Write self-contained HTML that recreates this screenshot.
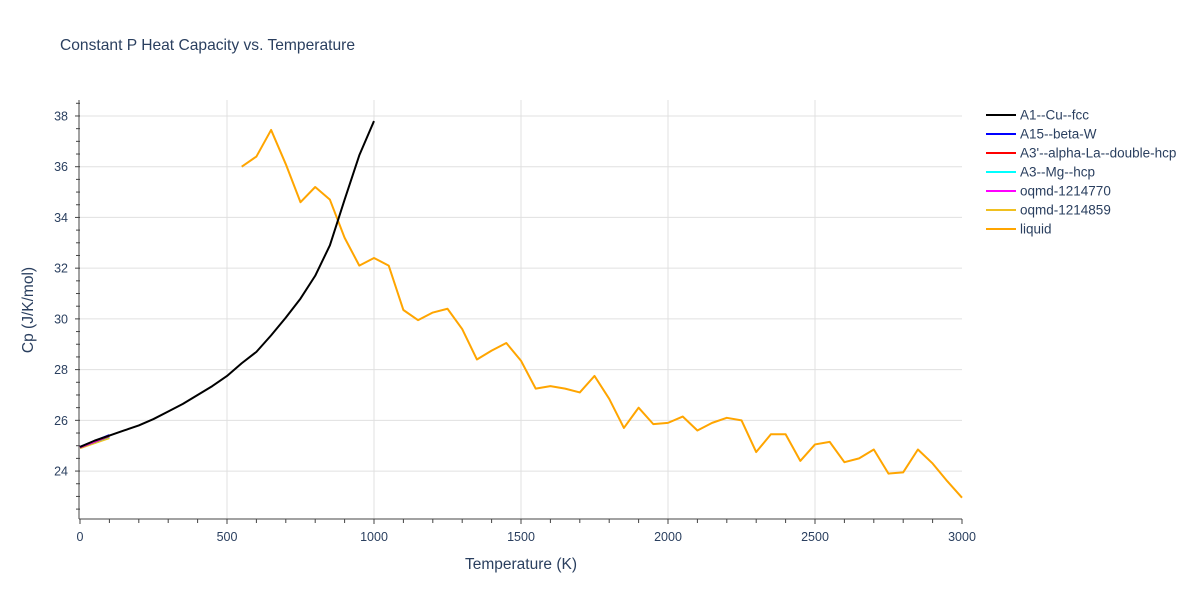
<!DOCTYPE html>
<html><head><meta charset="utf-8"><style>
body{margin:0;background:#fff;font-family:"Liberation Sans",sans-serif}
svg text{font-family:"Liberation Sans",sans-serif;fill:#2a3f5f}
</style></head><body>
<svg id="chart" width="1200" height="600" xmlns="http://www.w3.org/2000/svg">
<rect width="1200" height="600" fill="#fff"/>
<text x="60" y="50" font-size="15.6">Constant P Heat Capacity vs. Temperature</text>
<g id="grid"></g>
<g id="axes"></g>
<g id="series"></g>
<g id="legend"></g>
<text x="521" y="569" font-size="15.5" text-anchor="middle">Temperature (K)</text>
<text transform="translate(33,310) rotate(-90)" font-size="15.5" text-anchor="middle">Cp (J/K/mol)</text>
</svg>
<script>
const xTicks=[0,500,1000,1500,2000,2500,3000];
const yTicks=[24,26,28,30,32,34,36,38];
const seriesNames=["A1--Cu--fcc","A15--beta-W","A3'--alpha-La--double-hcp","A3--Mg--hcp","oqmd-1214770","oqmd-1214859","liquid"];
const seriesColors=["#000000","#0000ff","#ff0000","#00ffff","#ff00ff","#f0c020","#ffa500"];
const fccT=[0,50,100,150,200,250,300,350,400,450,500,550,600,650,700,750,800,850,900,950,1000];
const fccCp=[24.95,25.2,25.4,25.6,25.8,26.05,26.35,26.65,27.0,27.35,27.75,28.25,28.7,29.35,30.05,30.8,31.7,32.9,34.7,36.45,37.8];
const lowT=[0,100];
const betaWCp=[24.95,25.42];
const laCp=[24.93,25.38];
const mgCp=[24.93,25.36];
const oqmd770Cp=[24.94,25.4];
const oqmd859Cp=[24.9,25.3];
const liqT=[550,600,650,700,750,800,850,900,950,1000,1050,1100,1150,1200,1250,1300,1350,1400,1450,1500,1550,1600,1650,1700,1750,1800,1850,1900,1950,2000,2050,2100,2150,2200,2250,2300,2350,2400,2450,2500,2550,2600,2650,2700,2750,2800,2850,2900,2950,3000];
const liqCp=[36.0,36.4,37.45,36.1,34.6,35.2,34.7,33.2,32.1,32.4,32.1,30.35,29.95,30.25,30.4,29.6,28.4,28.75,29.05,28.35,27.25,27.35,27.25,27.1,27.75,26.85,25.7,26.5,25.85,25.9,26.15,25.6,25.9,26.1,26.0,24.75,25.45,25.45,24.4,25.05,25.15,24.35,24.5,24.85,23.9,23.95,24.85,24.3,23.6,22.95];

const L=80,R=962,T=100,B=519;
const yMin=22.11,yMax=38.63;
const xs=v=>L+(v/3000)*(R-L);
const ys=v=>B-(v-yMin)/(yMax-yMin)*(B-T);
const NS="http://www.w3.org/2000/svg";
function mk(tag,attrs,parent){const e=document.createElementNS(NS,tag);for(const k in attrs)e.setAttribute(k,attrs[k]);parent.appendChild(e);return e;}
const grid=document.getElementById('grid'),axes=document.getElementById('axes'),ser=document.getElementById('series'),leg=document.getElementById('legend');
xTicks.forEach(t=>{if(t>0&&t<3000){const g=mk('line',{x1:xs(t),x2:xs(t),y1:T,y2:B,stroke:'#e0e0e0','stroke-width':1},grid);}
 const tx=mk('text',{x:xs(t),y:B+22,'font-size':12.5,'text-anchor':'middle'},axes);tx.textContent=t;
 
 });
yTicks.forEach(t=>{const g=mk('line',{x1:L,x2:R,y1:ys(t),y2:ys(t),stroke:'#e0e0e0','stroke-width':1},grid);
 
 
 const tx=mk('text',{x:L-12,y:ys(t)+4.5,'font-size':12.5,'text-anchor':'end'},axes);tx.textContent=t;
 
 });
for(let k=0;k<=30;k++){const x=xs(k*100);mk('line',{x1:x,x2:x,y1:B,y2:B+(k%5==0?5:4),stroke:'#444','stroke-width':1},axes);}
for(let v=22.5;v<=38.5;v+=0.5){const y=ys(v);mk('line',{x1:L-(Math.abs(v-Math.round(v/2)*2)<0.01?5:4),x2:L,y1:y,y2:y,stroke:'#444','stroke-width':1},axes);}
mk('line',{x1:L-1,x2:L-1,y1:T,y2:B,stroke:'#444','stroke-width':1},axes);
mk('line',{x1:L-1,x2:R,y1:B,y2:B,stroke:'#444','stroke-width':1},axes);
function line(xv,yv,color,name){const p=mk('polyline',{points:xv.map((x,i)=>xs(x)+','+ys(yv[i])).join(' '),fill:'none',stroke:color,'stroke-width':2,'stroke-linejoin':'round'},ser);
 
 }
line(liqT,liqCp,seriesColors[6],'liquid-line');
line(lowT,oqmd859Cp,seriesColors[5],'oqmd-1214859-line');
line(lowT,mgCp,seriesColors[3],'a3-mg-hcp-line');
line(lowT,laCp,seriesColors[2],'a3-alpha-la-line');
line(lowT,betaWCp,seriesColors[1],'a15-beta-w-line');
line(lowT,oqmd770Cp,seriesColors[4],'oqmd-1214770-line');
line(fccT,fccCp,seriesColors[0],'a1-cu-fcc-line');
seriesNames.forEach((n,i)=>{const y=115+i*19;
 const g=mk('g',{},leg);
 
 
 mk('line',{x1:986,x2:1016,y1:y,y2:y,stroke:seriesColors[i],'stroke-width':2},g);
 const t=mk('text',{x:1020,y:y+4.5,'font-size':13.5},g);t.textContent=n;});
</script>
</body></html>
